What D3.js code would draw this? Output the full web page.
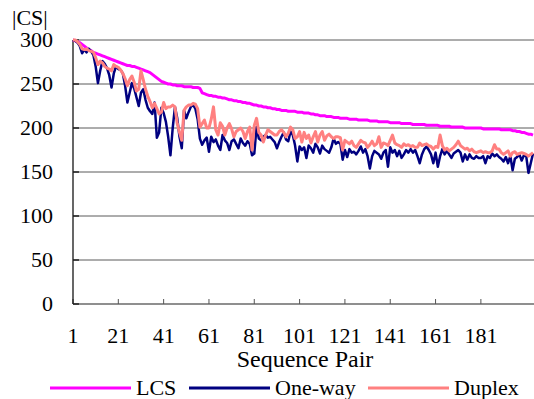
<!DOCTYPE html>
<html>
<head>
<meta charset="utf-8">
<script src="https://cdn.jsdelivr.net/npm/d3@7"></script>
</head>
<body style="margin:0">
<svg id="chart" width="534" height="399"></svg>
<script>
// values, index 1..204
const lcs = [
  300, 299, 298, 297, 295, 293, 291, 289, 288, 286,
  285, 284, 283, 282, 281, 280, 279, 278, 277, 276,
  275, 274, 273, 272, 271, 271, 270, 270, 269, 268,
  267, 266, 265, 264, 263, 261, 259, 257, 255, 253,
  252, 251, 250, 250, 249, 249, 248, 248, 248, 247,
  247, 247, 247, 246, 246, 246, 245, 240, 239, 238,
  237, 237, 236, 236, 235, 235, 234, 234, 233, 232,
  232, 231, 231, 230, 230, 229, 229, 228, 228, 227,
  226, 226, 225, 225, 224, 224, 223, 223, 222, 222,
  221, 221, 220, 220, 220, 219, 219, 219, 219, 218,
  218, 218, 217, 217, 217, 216, 216, 215, 215, 214,
  214, 214, 213, 213, 213, 212, 212, 212, 211, 211,
  211, 211, 210, 210, 210, 210, 209, 209, 209, 209,
  209, 208, 208, 208, 208, 207, 207, 207, 207, 207,
  206, 206, 206, 206, 206, 205, 205, 205, 205, 205,
  204, 204, 204, 204, 204, 204, 203, 203, 203, 203,
  203, 203, 202, 202, 202, 202, 202, 201, 201, 201,
  201, 201, 201, 200, 200, 200, 200, 200, 200, 200,
  200, 199, 199, 199, 199, 199, 199, 199, 199, 198,
  198, 198, 198, 198, 197, 197, 196, 196, 195, 195,
  194, 193, 193, 192
]

const oneWay = [
  300, 299, 297, 293, 285, 289, 286, 290, 287, 283,
  270, 251, 265, 276, 273, 268, 260, 246, 262, 270,
  267, 266, 262, 248, 229, 240, 251, 245, 235, 225,
  240, 244, 232, 223, 219, 216, 229, 189, 195, 223,
  217, 207, 190, 169, 200, 224, 211, 190, 177, 220,
  211, 218, 224, 226, 222, 210, 188, 181, 186, 189,
  173, 190, 184, 187, 180, 175, 192, 186, 183, 175,
  185, 187, 182, 177, 188, 183, 180, 185, 182, 169,
  171, 201, 188, 186, 190, 192, 189, 190, 187, 184,
  177, 184, 190, 195, 187, 185, 196, 192, 180, 162,
  179, 175, 178, 166, 180, 177, 172, 182, 178, 171,
  180, 176, 174, 172, 178, 188, 182, 184, 182, 164,
  175, 167, 176, 172, 173, 170, 174, 179, 172, 176,
  168, 154, 168, 174, 172, 170, 165, 172, 175, 156,
  178, 172, 175, 168, 174, 166, 170, 175, 172, 176,
  172, 175, 168, 160, 170, 176, 179, 175, 170, 160,
  172, 156, 168, 176, 170, 174, 170, 166, 171, 173,
  175, 172, 162, 170, 164, 170, 166, 165, 168, 166,
  166, 168, 160, 168, 166, 171, 168, 170, 167, 165,
  162, 167, 160, 168, 152, 165, 167, 170, 163, 169,
  168, 149, 160, 171
]

const duplex = [
  300, 300, 298, 295, 290, 289, 290, 288, 287, 286,
  280, 272, 276, 274, 270, 268, 267, 265, 272, 270,
  269, 266, 262, 256, 248, 255, 259, 252, 242, 244,
  265, 255, 244, 236, 230, 223, 228, 222, 216, 218,
  229, 222, 224, 224, 226, 224, 205, 195, 186, 220,
  224, 226, 226, 228, 227, 222, 201, 205, 209, 200,
  200, 210, 224, 198, 192, 206, 202, 192, 200, 205,
  199, 190, 196, 198, 200, 196, 188, 196, 201, 175,
  203, 211, 195, 192, 184, 192, 198, 196, 194, 192,
  192, 196, 198, 195, 190, 194, 201, 198, 188, 190,
  196, 184, 195, 188, 192, 183, 190, 196, 184, 192,
  196, 186, 191, 193, 190, 188, 190, 190, 189, 175,
  186, 184, 182, 185, 180, 178, 182, 186, 184, 183,
  178, 181, 185, 180, 182, 190, 178, 183, 182, 180,
  186, 192, 183, 181, 180, 178, 182, 180, 181, 179,
  180, 178, 178, 183, 180, 181, 182, 180, 179, 176,
  179, 178, 192, 180, 175, 177, 174, 176, 178, 181,
  185, 180, 178, 176, 177, 174, 176, 173, 172, 173,
  174, 172, 173, 172, 172, 174, 181, 176, 176, 172,
  170, 172, 174, 168, 172, 173, 170, 171, 172, 171,
  170, 168, 170, 172
]

const yTicks = [0, 50, 100, 150, 200, 250, 300]
const xTicks = [1, 21, 41, 61, 81, 101, 121, 141, 161, 181]

const series = [
  { name: "LCS", values: lcs, color: "#ff00ff", width: 3 },
  { name: "One-way", values: oneWay, color: "#000080", width: 2.5 },
  { name: "Duplex", values: duplex, color: "#ff8080", width: 3 }
]

const serifFace = '"Liberation Serif", Tinos, "Times New Roman", FreeSerif, serif'

const svg = d3.select("#chart")
const plotLeft = 73, plotRight = 534, plotTop = 40, plotBottom = 304
const n = lcs.length

const x = d3.scaleLinear().domain([1, n]).range([plotLeft, 533])
const y = d3.scaleLinear().domain([0, 300]).range([plotBottom, plotTop])

function label(sel, size) {
  return sel
    .attr("font-family", "Liberation Serif")
    .style("font-family", serifFace)
    .attr("font-size", size)
    .attr("fill", "#000")
}

// grid lines
svg.append("g")
  .selectAll("line")
  .data(yTicks.filter(d => d > 0))
  .join("line")
  .attr("x1", plotLeft).attr("x2", plotRight)
  .attr("y1", d => y(d)).attr("y2", d => y(d))
  .attr("stroke", "#5a5a5a")
  .attr("stroke-width", 1)

// x axis line + ticks pointing up
svg.append("line")
  .attr("x1", plotLeft).attr("x2", plotRight)
  .attr("y1", plotBottom).attr("y2", plotBottom)
  .attr("stroke", "#6a6a6a")
  .attr("stroke-width", 1.5)
svg.append("g")
  .selectAll("line")
  .data(xTicks)
  .join("line")
  .attr("x1", d => x(d)).attr("x2", d => x(d))
  .attr("y1", plotBottom).attr("y2", plotBottom - 5)
  .attr("stroke", "#555")

// y axis line + ticks
svg.append("line")
  .attr("x1", plotLeft).attr("x2", plotLeft)
  .attr("y1", plotTop).attr("y2", plotBottom)
  .attr("stroke", "#000")
  .attr("stroke-width", 1.2)
svg.append("g")
  .selectAll("line")
  .data(yTicks)
  .join("line")
  .attr("x1", plotLeft).attr("x2", plotLeft + 6)
  .attr("y1", d => y(d)).attr("y2", d => y(d))
  .attr("stroke", "#222")
  .attr("stroke-width", 1.5)

// y labels
svg.append("g")
  .selectAll("text")
  .data(yTicks)
  .join("text")
  .attr("x", 53)
  .attr("y", d => y(d) + 7)
  .attr("text-anchor", "end")
  .call(label, 22)
  .text(d => d)

// x labels
svg.append("g")
  .selectAll("text")
  .data(xTicks)
  .join("text")
  .attr("x", d => x(d))
  .attr("y", 343)
  .attr("text-anchor", "middle")
  .call(label, 22)
  .text(d => d)

svg.append("text")
  .attr("x", 12).attr("y", 25)
  .call(label, 22)
  .text("|CS|")

svg.append("text")
  .attr("x", 305).attr("y", 367)
  .attr("text-anchor", "middle")
  .call(label, 24)
  .text("Sequence Pair")

// lines
const line = d3.line()
  .x((d, i) => x(i + 1))
  .y(d => y(d))

svg.append("g")
  .selectAll("path")
  .data(series)
  .join("path")
  .attr("d", d => line(d.values))
  .attr("fill", "none")
  .attr("stroke", d => d.color)
  .attr("stroke-width", d => d.width)
  .attr("stroke-linejoin", "round")

// legend
const legendX = [50, 189, 368]
const legend = svg.append("g")
  .selectAll("g")
  .data(series)
  .join("g")
  .attr("transform", (d, i) => `translate(${legendX[i]},388)`)
legend.append("line")
  .attr("x1", 0).attr("x2", 81)
  .attr("stroke", d => d.color)
  .attr("stroke-width", 3)
legend.append("text")
  .attr("x", 86).attr("y", 7)
  .call(label, 22)
  .text(d => d.name)

// nudge the text again once the serif face is loaded
if (document.fonts) {
  document.fonts.load('22px "Liberation Serif"').then(() => {
    svg.selectAll("text").style("font-family", serifFace)
  })
}
</script>
</body>
</html>
